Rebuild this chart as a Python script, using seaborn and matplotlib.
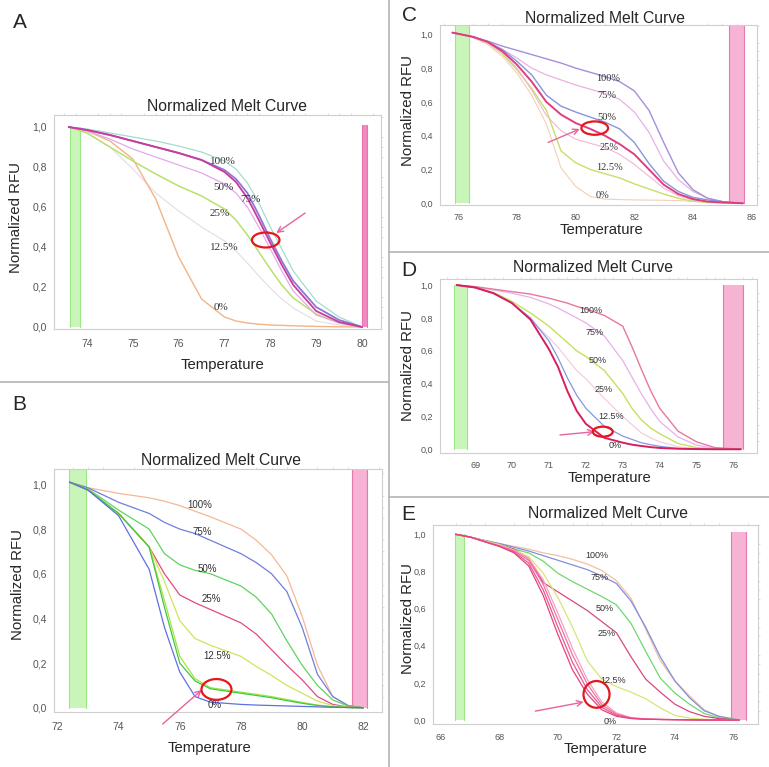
import numpy as np
import pandas as pd
import matplotlib.pyplot as plt
import seaborn as sns
from matplotlib.patches import Ellipse
from matplotlib.lines import Line2D
from matplotlib.ticker import FuncFormatter, MultipleLocator, AutoMinorLocator

sns.set_style("white")
plt.rcParams['font.family'] = ['Liberation Sans', 'DejaVu Sans']

pct = ["100%", "75%", "50%", "25%", "12.5%", "0%"]

# ---------- panel A ----------
temp_a = [73.6, 74.0, 74.5, 75.0, 75.5, 76.0, 76.5, 77.0, 77.25, 77.5, 77.75, 78.0, 78.25, 78.5, 79.0, 79.5, 80.0]
a_100 = [1.0, 0.99, 0.97, 0.95, 0.93, 0.905, 0.875, 0.83, 0.79, 0.72, 0.62, 0.50, 0.39, 0.28, 0.13, 0.05, 0.0]
a_75 = [1.0, 0.985, 0.96, 0.93, 0.90, 0.87, 0.835, 0.785, 0.74, 0.67, 0.56, 0.44, 0.33, 0.23, 0.10, 0.035, 0.0]
a_50 = [1.0, 0.985, 0.96, 0.93, 0.90, 0.87, 0.835, 0.775, 0.725, 0.645, 0.535, 0.42, 0.31, 0.21, 0.08, 0.025, 0.0]
a_50b = [1.0, 0.98, 0.94, 0.89, 0.85, 0.81, 0.77, 0.715, 0.67, 0.60, 0.50, 0.39, 0.28, 0.18, 0.06, 0.02, 0.0]
a_25 = [1.0, 0.97, 0.90, 0.83, 0.765, 0.705, 0.655, 0.59, 0.535, 0.46, 0.375, 0.29, 0.21, 0.145, 0.065, 0.02, 0.0]
a_12 = [1.0, 0.97, 0.90, 0.79, 0.67, 0.58, 0.50, 0.43, 0.38, 0.32, 0.255, 0.195, 0.14, 0.095, 0.03, 0.01, 0.0]
a_0 = [1.0, 0.98, 0.93, 0.84, 0.64, 0.35, 0.14, 0.05, 0.03, 0.02, 0.014, 0.01, 0.008, 0.006, 0.003, 0.001, 0.0]
lab_x_a = [76.97, 77.56, 76.97, 76.9, 76.99, 76.93]
lab_y_a = [0.83, 0.64, 0.695, 0.565, 0.395, 0.10]

# ---------- panel B ----------
temp_b = [72.4, 73.0, 74.0, 75.0, 75.5, 76.0, 76.5, 77.0, 78.0, 78.5, 79.0, 79.5, 80.0, 80.5, 81.0, 81.5, 82.0]
b_100 = [1.01, 0.985, 0.96, 0.94, 0.925, 0.905, 0.88, 0.855, 0.80, 0.75, 0.685, 0.59, 0.41, 0.19, 0.05, 0.01, 0.0]
b_75 = [1.01, 0.985, 0.92, 0.87, 0.83, 0.80, 0.78, 0.75, 0.69, 0.65, 0.60, 0.52, 0.36, 0.15, 0.05, 0.01, 0.0]
b_50 = [1.01, 0.98, 0.885, 0.80, 0.69, 0.64, 0.615, 0.60, 0.545, 0.495, 0.42, 0.30, 0.19, 0.10, 0.035, 0.008, 0.0]
b_25 = [1.01, 0.975, 0.87, 0.72, 0.60, 0.505, 0.47, 0.44, 0.38, 0.33, 0.26, 0.19, 0.125, 0.05, 0.015, 0.003, 0.0]
b_12 = [1.01, 0.975, 0.87, 0.72, 0.565, 0.39, 0.31, 0.28, 0.23, 0.185, 0.145, 0.10, 0.065, 0.03, 0.01, 0.002, 0.0]
b_g1 = [1.01, 0.975, 0.87, 0.72, 0.45, 0.20, 0.12, 0.085, 0.065, 0.055, 0.045, 0.032, 0.02, 0.01, 0.004, 0.001, 0.0]
b_g2 = [1.01, 0.975, 0.87, 0.72, 0.48, 0.23, 0.13, 0.09, 0.07, 0.06, 0.05, 0.037, 0.024, 0.012, 0.005, 0.001, 0.0]
b_0 = [1.01, 0.975, 0.86, 0.62, 0.36, 0.16, 0.05, 0.025, 0.015, 0.012, 0.01, 0.008, 0.006, 0.004, 0.002, 0.001, 0.0]
lab_x_b = [76.66, 76.74, 76.91, 77.02, 77.21, 77.15]
lab_y_b = [0.908, 0.788, 0.621, 0.485, 0.232, 0.012]

# ---------- panel C ----------
temp_c = [75.8, 76.5, 77.0, 77.5, 78.0, 78.5, 79.0, 79.5, 80.0, 80.5, 81.0, 81.5, 82.0, 82.5, 83.0, 83.5, 84.0, 84.5, 85.0, 85.7]
c_100 = [1.01, 0.985, 0.96, 0.93, 0.905, 0.88, 0.855, 0.83, 0.80, 0.775, 0.75, 0.72, 0.665, 0.55, 0.36, 0.18, 0.08, 0.03, 0.01, 0.0]
c_75 = [1.01, 0.985, 0.955, 0.91, 0.86, 0.80, 0.76, 0.73, 0.70, 0.675, 0.65, 0.615, 0.54, 0.42, 0.25, 0.14, 0.07, 0.03, 0.01, 0.0]
c_50 = [1.01, 0.985, 0.955, 0.91, 0.84, 0.76, 0.64, 0.575, 0.54, 0.51, 0.48, 0.44, 0.36, 0.235, 0.13, 0.07, 0.035, 0.02, 0.01, 0.0]
c_25 = [1.01, 0.985, 0.955, 0.90, 0.82, 0.72, 0.60, 0.525, 0.475, 0.44, 0.40, 0.35, 0.29, 0.20, 0.11, 0.055, 0.025, 0.01, 0.005, 0.0]
c_25b = [1.01, 0.985, 0.95, 0.89, 0.80, 0.67, 0.52, 0.43, 0.38, 0.355, 0.33, 0.29, 0.23, 0.16, 0.09, 0.045, 0.02, 0.01, 0.005, 0.0]
c_12 = [1.01, 0.985, 0.95, 0.885, 0.79, 0.68, 0.55, 0.31, 0.24, 0.20, 0.175, 0.15, 0.115, 0.085, 0.055, 0.03, 0.012, 0.005, 0.002, 0.0]
c_0 = [1.01, 0.98, 0.94, 0.87, 0.77, 0.64, 0.47, 0.21, 0.10, 0.04, 0.025, 0.022, 0.02, 0.019, 0.018, 0.016, 0.012, 0.008, 0.004, 0.0]
lab_x_c = [81.1, 81.05, 81.05, 81.13, 81.16, 80.93]
lab_y_c = [0.74, 0.64, 0.505, 0.33, 0.21, 0.045]

# ---------- panel D ----------
temp_d = [68.5, 69.0, 69.5, 70.0, 70.5, 71.0, 71.25, 71.5, 71.75, 72.0, 72.5, 73.0, 73.25, 73.5, 73.75, 74.0, 74.5, 75.0, 75.5, 76.2]
d_100 = [1.0, 0.99, 0.975, 0.96, 0.945, 0.92, 0.905, 0.89, 0.87, 0.855, 0.815, 0.75, 0.625, 0.49, 0.36, 0.25, 0.11, 0.045, 0.01, 0.0]
d_75 = [1.0, 0.99, 0.97, 0.95, 0.925, 0.885, 0.86, 0.83, 0.80, 0.77, 0.69, 0.54, 0.44, 0.34, 0.25, 0.17, 0.075, 0.025, 0.005, 0.0]
d_50 = [1.0, 0.985, 0.955, 0.90, 0.83, 0.75, 0.70, 0.65, 0.60, 0.565, 0.48, 0.34, 0.25, 0.18, 0.13, 0.095, 0.035, 0.01, 0.003, 0.0]
d_25 = [1.0, 0.985, 0.95, 0.89, 0.79, 0.68, 0.62, 0.55, 0.48, 0.43, 0.31, 0.20, 0.15, 0.10, 0.07, 0.045, 0.015, 0.005, 0.001, 0.0]
d_12 = [1.0, 0.985, 0.95, 0.89, 0.80, 0.66, 0.555, 0.435, 0.33, 0.25, 0.14, 0.08, 0.06, 0.04, 0.028, 0.018, 0.005, 0.002, 0.0, 0.0]
d_0 = [1.0, 0.985, 0.95, 0.89, 0.79, 0.61, 0.50, 0.355, 0.235, 0.155, 0.07, 0.04, 0.028, 0.02, 0.013, 0.008, 0.003, 0.001, 0.0, 0.0]
lab_x_d = [72.15, 72.24, 72.33, 72.47, 72.7, 72.79]
lab_y_d = [0.845, 0.71, 0.54, 0.365, 0.20, 0.025]

# ---------- panel E ----------
temp_e = [66.5, 67.0, 67.5, 68.0, 68.5, 69.0, 69.5, 70.0, 70.5, 71.0, 71.5, 72.0, 72.5, 73.0, 73.5, 74.0, 74.5, 75.0, 75.5, 76.2]
e_100 = [1.0, 0.985, 0.967, 0.95, 0.935, 0.92, 0.90, 0.885, 0.865, 0.84, 0.805, 0.75, 0.655, 0.49, 0.32, 0.21, 0.13, 0.055, 0.02, 0.0]
e_75 = [1.0, 0.985, 0.967, 0.95, 0.93, 0.91, 0.885, 0.86, 0.835, 0.81, 0.775, 0.735, 0.64, 0.50, 0.34, 0.21, 0.12, 0.05, 0.02, 0.0]
e_50 = [1.0, 0.985, 0.965, 0.945, 0.92, 0.90, 0.855, 0.79, 0.745, 0.705, 0.665, 0.62, 0.52, 0.37, 0.225, 0.145, 0.085, 0.035, 0.012, 0.0]
e_25 = [1.0, 0.985, 0.965, 0.945, 0.92, 0.87, 0.74, 0.69, 0.64, 0.59, 0.53, 0.47, 0.34, 0.22, 0.15, 0.085, 0.045, 0.02, 0.008, 0.0]
e_12 = [1.0, 0.985, 0.965, 0.945, 0.915, 0.88, 0.79, 0.66, 0.50, 0.32, 0.22, 0.18, 0.15, 0.115, 0.065, 0.025, 0.01, 0.004, 0.001, 0.0]
e_0a = [1.0, 0.985, 0.96, 0.935, 0.90, 0.83, 0.67, 0.46, 0.27, 0.14, 0.055, 0.02, 0.008, 0.004, 0.003, 0.002, 0.001, 0.0, 0.0, 0.0]
e_0b = [1.0, 0.985, 0.96, 0.935, 0.905, 0.845, 0.70, 0.50, 0.31, 0.165, 0.068, 0.026, 0.009, 0.005, 0.003, 0.002, 0.001, 0.0, 0.0, 0.0]
e_0c = [1.0, 0.985, 0.96, 0.937, 0.91, 0.86, 0.73, 0.54, 0.35, 0.195, 0.082, 0.032, 0.011, 0.005, 0.003, 0.002, 0.001, 0.0, 0.0, 0.0]
e_0d = [1.0, 0.986, 0.962, 0.94, 0.915, 0.87, 0.755, 0.575, 0.385, 0.22, 0.097, 0.038, 0.013, 0.006, 0.003, 0.002, 0.001, 0.0, 0.0, 0.0]
lab_x_e = [71.34, 71.42, 71.59, 71.68, 71.88, 71.8]
lab_y_e = [0.887, 0.77, 0.603, 0.468, 0.214, -0.007]

W, H = 769, 767
fig = plt.figure(figsize=(W / 100, H / 100), dpi=100)


def px_box(l, t, r, b):
    return [l / W, 1 - b / H, (r - l) / W, (b - t) / H]


def px(x, y):
    return x / W, 1 - y / H


def style_axes(ax, xlim, ylim, xstep, fs_tick, xpad=2):
    ax.set_xlim(*xlim)
    ax.set_ylim(*ylim)
    ax.xaxis.set_major_locator(MultipleLocator(xstep))
    ax.yaxis.set_major_locator(MultipleLocator(0.2))
    ax.xaxis.set_minor_locator(AutoMinorLocator(4))
    ax.yaxis.set_minor_locator(AutoMinorLocator(4))
    ax.yaxis.set_major_formatter(FuncFormatter(lambda v, p: f"{v:.1f}".replace(".", ",")))
    ax.xaxis.set_major_formatter(FuncFormatter(lambda v, p: f"{v:.0f}"))
    for s in ax.spines.values():
        s.set_color("#cfcfcf")
        s.set_linewidth(0.8)
    ax.tick_params(which="major", direction="out", length=3, width=0.6, color="#bdbdbd",
                   labelsize=fs_tick, labelcolor="#555555", pad=2)
    ax.tick_params(axis="x", which="major", pad=xpad)
    ax.tick_params(which="minor", direction="out", length=1.5, width=0.5, color="#cfcfcf",
                   top=True, right=True)


def bands(ax, green, pink, top_g, top_p, pink_col="#f7b3d3", pink_edge="#e57aae"):
    ax.fill_between(green, 0, top_g, color="#c9f5b9", lw=0)
    ax.plot([green[0]] * 2, [0, top_g], color="#9be687", lw=0.8)
    ax.plot([green[1]] * 2, [0, top_g], color="#9be687", lw=0.8)
    ax.fill_between(pink, 0, top_p, color=pink_col, lw=0)
    ax.plot([pink[0]] * 2, [0, top_p], color=pink_edge, lw=0.8)
    ax.plot([pink[1]] * 2, [0, top_p], color=pink_edge, lw=0.8)


def curves(ax, temps, series):
    for vals, col, lw in series:
        sns.lineplot(x=temps, y=vals, ax=ax, color=col, lw=lw, estimator=None, sort=False)


def labels(ax, xs, ys, fs, serif=False):
    fam = ["Liberation Serif", "DejaVu Serif"] if serif else ["Liberation Sans", "DejaVu Sans"]
    for t, x, y in zip(pct, xs, ys):
        ax.text(x, y, t, fontsize=fs, ha="center", va="center", color="#333333", family=fam)


def mark(ax, center, w, h, tail, head):
    ax.add_patch(Ellipse(center, w, h, fill=False, ec="#e3171c", lw=1.6, zorder=5))
    ax.annotate("", xy=head, xytext=tail, annotation_clip=False,
                arrowprops=dict(arrowstyle="->", color="#e8639c", lw=1.0, shrinkA=0, shrinkB=0))


def texts(ax, title_x, pad, ylab_xy, xlab_xy, letter, letter_xy):
    ax.set_title("Normalized Melt Curve", fontsize=11.3, pad=pad, x=title_x)
    ax.set_ylabel("Normalized RFU", fontsize=10.8, va="center")
    ax.yaxis.set_label_coords(*px(*ylab_xy), transform=fig.transFigure)
    ax.set_xlabel("Temperature", fontsize=10.7, va="center")
    ax.xaxis.set_label_coords(*px(*xlab_xy), transform=fig.transFigure)
    fig.text(*px(*letter_xy), letter, fontsize=15, ha="center", va="center")


# ---- A ----
ax = fig.add_axes(px_box(54, 115, 381, 329))
bands(ax, [73.63, 73.85], [80.0, 80.1], 1.0, 1.01, pink_col="#f28ac0", pink_edge="#ec6fae")
curves(ax, temp_a, [(a_12, "#e6dbe6", 0.8), (a_0, "#f3b487", 1.0), (a_25, "#b9e06c", 1.1),
                    (a_50b, "#e3a9ec", 0.9), (a_100, "#a3dccd", 0.9), (a_75, "#8a78d6", 1.3),
                    (a_50, "#cc3a9c", 1.3)])
labels(ax, lab_x_a, lab_y_a, 8, serif=True)
mark(ax, (77.9, 0.435), 0.6, 0.075, (78.76, 0.57), (78.13, 0.47))
style_axes(ax, (73.28, 80.415), (-0.01, 1.06), 1, 7.5, xpad=4)
texts(ax, 0.529, 3.1, (16.5, 218), (222.5, 365), "A", (19.5, 22.5))

# ---- B ----
ax = fig.add_axes(px_box(54, 469, 382, 712))
bands(ax, [72.38, 72.94], [81.63, 82.11], 1.069, 1.069)
curves(ax, temp_b, [(b_100, "#f4b897", 0.9), (b_75, "#6f7fda", 0.9), (b_50, "#5fd35f", 0.9),
                    (b_25, "#e04a84", 0.9), (b_12, "#cfe45a", 0.9), (b_g2, "#a6e23f", 0.9),
                    (b_g1, "#3fc83f", 0.9), (b_0, "#6070e0", 0.9)])
labels(ax, lab_x_b, lab_y_b, 7)
mark(ax, (77.2, 0.082), 0.98, 0.093, (75.44, -0.073), (76.72, 0.08))
style_axes(ax, (71.89, 82.61), (-0.019, 1.069), 2, 7.5, xpad=4.5)
texts(ax, 0.509, 2.9, (18, 585), (209.5, 748), "B", (19, 405))

# ---- C ----
ax = fig.add_axes(px_box(440, 25, 757, 205))
bands(ax, [75.89, 76.37], [85.23, 85.72], 1.055, 1.055)
curves(ax, temp_c, [(c_0, "#f3cfb5", 0.8), (c_12, "#c5e068", 1.0), (c_25b, "#f0b6d7", 0.8),
                    (c_75, "#e9b1e3", 0.9), (c_100, "#a78fd8", 1.0), (c_50, "#8796d9", 1.0),
                    (c_25, "#e13d80", 1.4)])
labels(ax, lab_x_c, lab_y_c, 7.5, serif=True)
mark(ax, (80.65, 0.445), 0.91, 0.079, (79.06, 0.36), (80.14, 0.44))
style_axes(ax, (75.376, 86.18), (-0.01, 1.055), 2, 6.5, xpad=3)
texts(ax, 0.52, 1.7, (408, 111), (601.5, 230), "C", (409.5, 15.5))

# ---- D ----
ax = fig.add_axes(px_box(440, 279.3, 756.7, 452.7))
bands(ax, [68.43, 68.77], [75.73, 76.25], 1.0, 1.0)
curves(ax, temp_d, [(d_25, "#f5c6dc", 0.8), (d_75, "#e8b0e8", 0.9), (d_50, "#c6e05c", 1.0),
                    (d_100, "#e8789f", 1.0), (d_12, "#8696e0", 0.9), (d_0, "#d81f5c", 1.4)])
labels(ax, lab_x_d, lab_y_d, 6.5)
mark(ax, (72.46, 0.107), 0.54, 0.061, (71.3, 0.087), (72.24, 0.107))
style_axes(ax, (68.05, 76.63), (-0.021, 1.035), 1, 6.5, xpad=3)
texts(ax, 0.483, 5.5, (408.5, 366), (609.5, 478), "D", (409, 270))

# ---- E ----
ax = fig.add_axes(px_box(432.7, 525, 758.3, 724.3))
bands(ax, [66.48, 66.8], [75.9, 76.42], 1.0, 1.01)
curves(ax, temp_e, [(e_100, "#f4c0a0", 0.9), (e_75, "#7f8fe0", 0.9), (e_50, "#6fd86f", 0.9),
                    (e_25, "#d84880", 0.9), (e_12, "#d6e676", 0.9), (e_0d, "#f6a0c2", 0.9),
                    (e_0c, "#f070a0", 0.9), (e_0b, "#e85890", 0.9), (e_0a, "#e84080", 0.9)])
labels(ax, lab_x_e, lab_y_e, 6.5)
mark(ax, (71.32, 0.138), 0.89, 0.144, (69.23, 0.048), (70.88, 0.097))
style_axes(ax, (65.72, 76.85), (-0.023, 1.05), 2, 6.5, xpad=3)
texts(ax, 0.538, 5, (407.5, 619), (605.5, 749), "E", (408.5, 514))

# separators
sep = "#b4b4b4"
fig.add_artist(Line2D([389 / W, 389 / W], [0, 1], color=sep, lw=1.2))
fig.add_artist(Line2D([0, 389 / W], [1 - 382 / H] * 2, color=sep, lw=1.2))
fig.add_artist(Line2D([389 / W, 1], [1 - 251.5 / H] * 2, color=sep, lw=1.2))
fig.add_artist(Line2D([389 / W, 1], [1 - 497 / H] * 2, color=sep, lw=1.2))

fig.savefig("out.png", dpi=100)
